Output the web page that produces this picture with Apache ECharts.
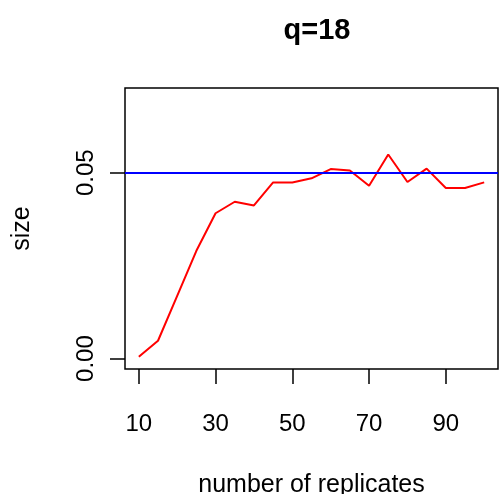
<!DOCTYPE html>
<html>
<head>
<meta charset="utf-8">
<script src="https://cdn.jsdelivr.net/npm/echarts@6/dist/echarts.min.js"></script>
<style>
  html, body { margin: 0; padding: 0; background: #fff; }
  #chart { width: 502px; height: 494px; }
</style>
</head>
<body>
<div id="chart"></div>
<script>
// number of replicates and the estimated size at each
const replicates = [10, 15, 20, 25, 30, 35, 40, 45, 50, 55, 60, 65, 70, 75, 80, 85, 90, 95, 100]
const sizeValues = [0.0005, 0.0048, 0.0169, 0.0290, 0.0391, 0.0422, 0.0412, 0.0474, 0.0474, 0.0485,
  0.0510, 0.0506, 0.0465, 0.0549, 0.0475, 0.0511, 0.0459, 0.0459, 0.0474]
const xTicks = [10, 30, 50, 70, 90]
const yTicks = [0, 0.05]
const nominalLevel = 0.05

const font = 'Liberation Sans, Arial, sans-serif'
const chart = echarts.init(document.getElementById('chart'))

chart.setOption({
  animation: false,
  title: {
    text: 'q=18',
    left: 312,
    top: 11,
    textAlign: 'center',
    textStyle: { fontFamily: font, fontSize: 29, fontWeight: 'bold', color: '#000' }
  },
  grid: {
    left: 125,
    top: 88,
    width: 373,
    height: 281,
    outerBoundsMode: 'none',
    containLabel: false,
    show: true,
    borderColor: '#000',
    borderWidth: 1.5
  },
  xAxis: {
    type: 'value',
    min: 6.4,
    max: 103.6,
    name: 'number of replicates',
    nameLocation: 'middle',
    nameGap: 104,
    nameTextStyle: { fontFamily: font, fontSize: 25, color: '#000' },
    axisLine: { show: false, onZero: false },
    splitLine: { show: false },
    axisTick: {
      show: true,
      inside: false,
      length: 15,
      customValues: xTicks,
      lineStyle: { color: '#000', width: 1.5 }
    },
    axisLabel: {
      customValues: xTicks,
      margin: 43,
      fontFamily: font,
      fontSize: 24,
      color: '#000'
    }
  },
  yAxis: {
    type: 'value',
    min: -0.0028,
    max: 0.0728,
    name: 'size',
    nameLocation: 'middle',
    nameGap: 90,
    nameTextStyle: { fontFamily: font, fontSize: 25, color: '#000' },
    axisLine: { show: false, onZero: false },
    splitLine: { show: false },
    axisTick: {
      show: true,
      inside: false,
      length: 15,
      customValues: yTicks,
      lineStyle: { color: '#000', width: 1.5 }
    },
    axisLabel: {
      customValues: yTicks,
      rotate: 90,
      margin: 27,
      fontFamily: font,
      fontSize: 24,
      color: '#000',
      formatter: v => v.toFixed(2)
    }
  },
  series: [
    {
      name: 'size',
      type: 'line',
      data: replicates.map((r, i) => [r, sizeValues[i]]),
      symbol: 'none',
      lineStyle: { color: '#ff0000', width: 2 },
      markLine: {
        silent: true,
        symbol: 'none',
        label: { show: false },
        lineStyle: { color: '#0000ff', width: 2, type: 'solid' },
        data: [{ yAxis: nominalLevel }]
      }
    }
  ]
})
</script>
</body>
</html>
